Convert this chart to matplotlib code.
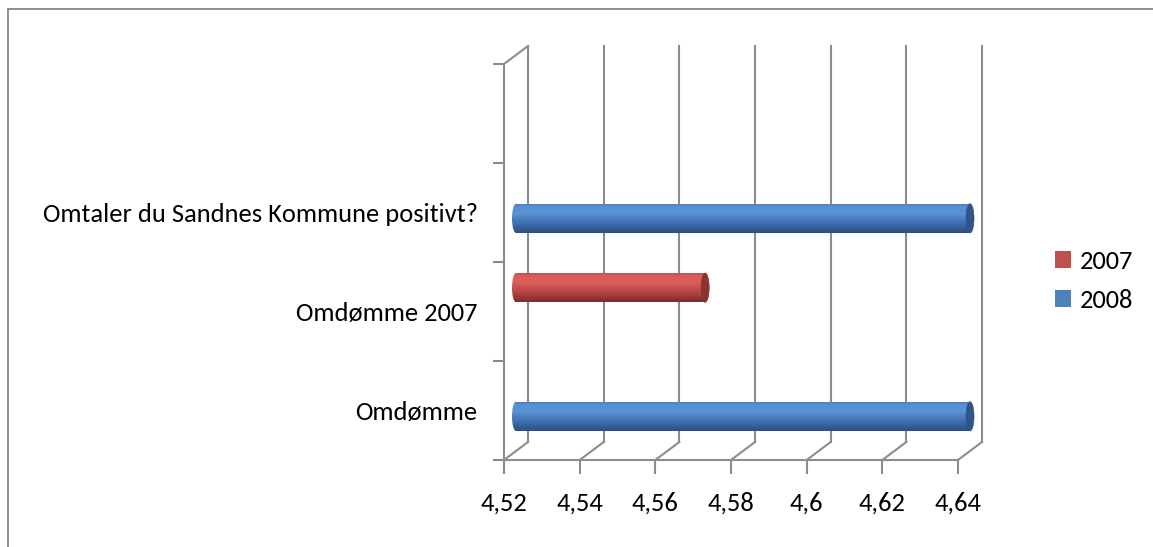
import numpy as np
import matplotlib
matplotlib.use('Agg')
import matplotlib.pyplot as plt
from matplotlib.patches import Patch, Ellipse
from matplotlib.colors import LinearSegmentedColormap
from matplotlib.lines import Line2D
import matplotlib.transforms as mtrans

# ---------------- data ----------------
categories = ["Omdømme", "Omdømme 2007", "Omtaler du Sandnes Kommune positivt?", ""]
series_names = ["2007", "2008"]
values_2007 = [np.nan, 4.57, np.nan, np.nan]
values_2008 = [4.64, np.nan, 4.64, np.nan]
x_ticks = [4.52, 4.54, 4.56, 4.58, 4.60, 4.62, 4.64]
x_tick_labels = ["4,52", "4,54", "4,56", "4,58", "4,6", "4,62", "4,64"]
x_min, x_max = 4.52, 4.64

# ---------------- style ----------------
W, H, DPI = 1153, 547, 100
FONT = ['Carlito', 'Lato', 'DejaVu Sans']
plt.rcParams['font.family'] = FONT
GRID = '#8c8c8c'
RED, BLUE = '#c0504d', '#4f81bd'

fig = plt.figure(figsize=(W / DPI, H / DPI), dpi=DPI)
fig.patch.set_facecolor('white')

# fit font size to the long category label width
renderer = fig.canvas.get_renderer()
tmp = fig.text(0, 0, categories[2], fontsize=10)
tw = tmp.get_window_extent(renderer).width
tmp.remove()
FS = 10 * 437.0 / tw

L, R, T, B = 504, 958, 64, 460
ax = fig.add_axes([L / W, (H - B) / H, (R - L) / W, (B - T) / H])
ax.set_xlim(x_min, x_max)
ncat = len(categories)
ax.set_ylim(0, ncat)
ax.set_facecolor('none')

# depth offset of the back wall (pixels) -> data units
dx_px, dy_px = 24, 18
DX = dx_px * (x_max - x_min) / (R - L)
DY = dy_px * ncat / (B - T)

lw = 1.5
# back wall gridlines
for xt in x_ticks:
    ax.plot([xt + DX, xt + DX], [DY, ncat + DY], color=GRID, lw=lw, clip_on=False, zorder=1)
    ax.plot([xt, xt + DX], [0, DY], color=GRID, lw=lw, clip_on=False, zorder=1)
ax.plot([x_min, x_min + DX], [ncat, ncat + DY], color=GRID, lw=lw, clip_on=False, zorder=1)

# spines / ticks
for s in ['top', 'right']:
    ax.spines[s].set_visible(False)
for s in ['left', 'bottom']:
    ax.spines[s].set_color(GRID)
    ax.spines[s].set_linewidth(lw)

ax.set_xticks(x_ticks)
ax.set_xticklabels(x_tick_labels, fontsize=FS)
ax.tick_params(axis='x', length=10, width=lw, color=GRID, pad=13)
ax.set_yticks(np.arange(ncat + 1))
ax.set_yticklabels([])
ax.tick_params(axis='y', which='major', length=8, width=lw, color=GRID)
ycent = np.arange(ncat) + 0.5
ax.set_yticks(ycent, minor=True)
ax.set_yticklabels(categories, minor=True, fontsize=FS)
ax.tick_params(axis='y', which='minor', length=0, pad=19)

# ---------------- bars (cylinders) ----------------
shift = ax.transData + mtrans.ScaledTranslation(dx_px / 2 / DPI, dy_px / 2 / DPI, fig.dpi_scale_trans)
bh = 0.295
offsets = {"2007": 0.15, "2008": -0.15}
cmaps = {
    "2007": LinearSegmentedColormap.from_list('r', [(0, '#7a2d2b'), (0.3, '#b04341'), (0.65, '#dc5f5d'),
                                                   (0.88, '#da5c5a'), (1, '#bd4b49')]),
    "2008": LinearSegmentedColormap.from_list('b', [(0, '#2b4e7e'), (0.3, '#3e6dab'), (0.65, '#5a92d6'),
                                                   (0.88, '#5890d3'), (1, '#4476b6')]),
}
caps = {"2007": '#8a3331', "2008": '#2f5687'}
base = {"2007": RED, "2008": BLUE}
ew = 8 * (x_max - x_min) / (R - L)
grad = np.linspace(0, 1, 256).reshape(-1, 1)

for name, vals in zip(series_names, [values_2007, values_2008]):
    vals = np.array(vals, dtype=float)
    bars = ax.barh(ycent + offsets[name], vals - x_min, left=x_min, height=bh,
                   color=base[name], transform=shift, clip_on=False, zorder=3, linewidth=0)
    for rect, v in zip(bars.patches, vals):
        if not np.isfinite(v):
            continue
        x0, y0, w, hh = rect.get_x(), rect.get_y(), rect.get_width(), rect.get_height()
        # left rounded end
        el = Ellipse((x0, y0 + hh / 2), ew, hh, transform=shift, facecolor='none', edgecolor='none')
        ax.add_patch(el)
        im1 = ax.imshow(grad, cmap=cmaps[name], extent=(x0 - ew / 2, x0, y0, y0 + hh), origin='lower',
                        aspect='auto', transform=shift, zorder=3.5, interpolation='bilinear')
        im1.set_clip_path(el)
        # body
        im2 = ax.imshow(grad, cmap=cmaps[name], extent=(x0, x0 + w, y0, y0 + hh), origin='lower',
                        aspect='auto', transform=shift, zorder=3.5, interpolation='bilinear')
        im2.set_clip_path(rect)
        # right cap
        cap = Ellipse((x0 + w, y0 + hh / 2), ew, hh, transform=shift, facecolor=caps[name],
                      edgecolor=caps[name], lw=0.5, clip_on=False, zorder=4)
        ax.add_patch(cap)

ax.set_xlim(x_min, x_max)
ax.set_ylim(0, ncat)
ax.set_aspect('auto')

# ---------------- legend ----------------
handles = [Patch(facecolor=RED, edgecolor='none'), Patch(facecolor=BLUE, edgecolor='none')]
fig.legend(handles, series_names, loc='center left', bbox_to_anchor=(1055 / W, (H - 281) / H),
           frameon=False, fontsize=FS, handlelength=0.6, handleheight=0.6, handletextpad=0.35,
           labelspacing=0.6, borderaxespad=0, borderpad=0)

# ---------------- chart border ----------------
fig.add_artist(Line2D([8 / W, 1], [1 - 9 / H, 1 - 9 / H], transform=fig.transFigure, color='#868686', lw=1.3))
fig.add_artist(Line2D([8 / W, 8 / W], [0, 1 - 9 / H], transform=fig.transFigure, color='#868686', lw=1.3))

fig.savefig('out.png', dpi=DPI)
